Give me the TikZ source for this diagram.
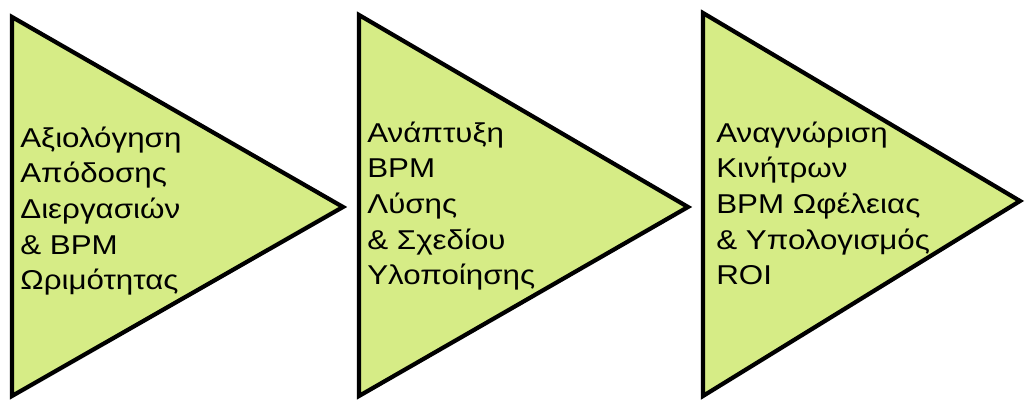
\documentclass[tikz,border=0pt]{standalone}
\usepackage{fontspec}
\setmainfont[FakeStretch=1.15]{Liberation Sans}
\definecolor{stagegreen}{HTML}{D6EC86}
\tikzset{
  stage/.style={draw=black, fill=stagegreen, line width=2.4pt, line join=miter},
  stagetext/.style={anchor=base west, align=left, inner sep=0pt,
    font=\fontsize{15.5}{20.3}\selectfont}
}
\begin{document}
\begin{tikzpicture}[x=0.02cm,y=-0.02cm]
\useasboundingbox (0,0) rectangle (1025,401);
% three stage arrows
\foreach \l/\t/\b/\r/\m in {12/17/396/343/207, 359/15/396/688/207, 703/13/396/1020/201} {
	\draw[stage] (\l,\t) -- (\r,\m) -- (\l,\b) -- cycle;
};
\node[stagetext] (assess) at (20,290) {Αξιολόγηση\\Απόδοσης\\Διεργασιών\\\& BPM\\Ωριμότητας};
\node[stagetext] (develop) at (367,285) {Ανάπτυξη\\BPM\\Λύσης\\\& Σχεδίου\\Υλοποίησης};
\node[stagetext] (identify) at (716,285) {Αναγνώριση\\Κινήτρων\\BPM Ωφέλειας\\\& Υπολογισμός\\ROI};
\end{tikzpicture}
\end{document}
